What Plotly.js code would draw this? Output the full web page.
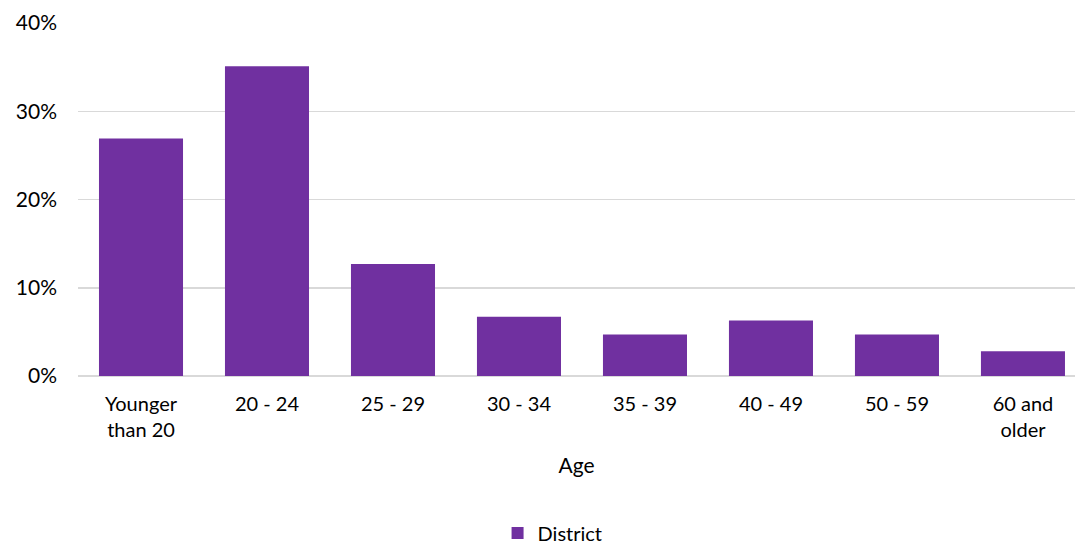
<!DOCTYPE html>
<html>
<head>
<meta charset="utf-8">
<script src="https://cdn.plot.ly/plotly-3.0.1.min.js"></script>
<style>html,body{margin:0;padding:0;background:#fff;}#chart{width:1075px;height:544px;}</style>
</head>
<body>
<div id="chart"></div>
<script>
const categories = ["Younger<br>than 20", "20 - 24", "25 - 29", "30 - 34", "35 - 39", "40 - 49", "50 - 59", "60 and<br>older"];
const district = [0.269, 0.351, 0.127, 0.067, 0.047, 0.063, 0.047, 0.028];
const yTicks = [0, 0.1, 0.2, 0.3, 0.4];

const fam = "Lato, 'Open Sans', sans-serif";

Plotly.newPlot("chart", [{
  type: "bar",
  x: categories,
  y: district,
  name: "District",
  marker: {color: "#7030A0"},
  hoverinfo: "none"
}], {
  width: 1075, height: 544,
  margin: {l: 78, r: 0, t: 23, b: 168, autoexpand: false},
  paper_bgcolor: "#fff", plot_bgcolor: "#fff",
  font: {family: fam, size: 20, color: "#000"},
  bargap: 0.333,
  xaxis: {
    range: [-0.5, 7.413],
    automargin: false,
    title: {text: "Age", font: {family: fam, size: 21, color: "#000"}, standoff: 18},
    tickfont: {family: fam, size: 20, color: "#000"},
    ticklabelstandoff: 14,
    showline: false, showgrid: false, zeroline: false, ticks: "", fixedrange: true
  },
  yaxis: {
    range: [0, 0.4],
    automargin: false,
    tickvals: yTicks,
    tickformat: ".0%",
    tickfont: {family: fam, size: 21, color: "#000"},
    showgrid: true, gridcolor: "#D9D9D9", gridwidth: 1.5,
    zeroline: true, zerolinecolor: "#D9D9D9", zerolinewidth: 1.5,
    ticks: "", ticklabelstandoff: 20, fixedrange: true
  },
  showlegend: true,
  legend: {orientation: "h", x: 0.476, xanchor: "center", yref: "container", y: 0.02, yanchor: "middle",
           font: {family: fam, size: 20, color: "#000"}, itemwidth: 30}
}, {displayModeBar: false, staticPlot: true});
</script>
</body>
</html>
